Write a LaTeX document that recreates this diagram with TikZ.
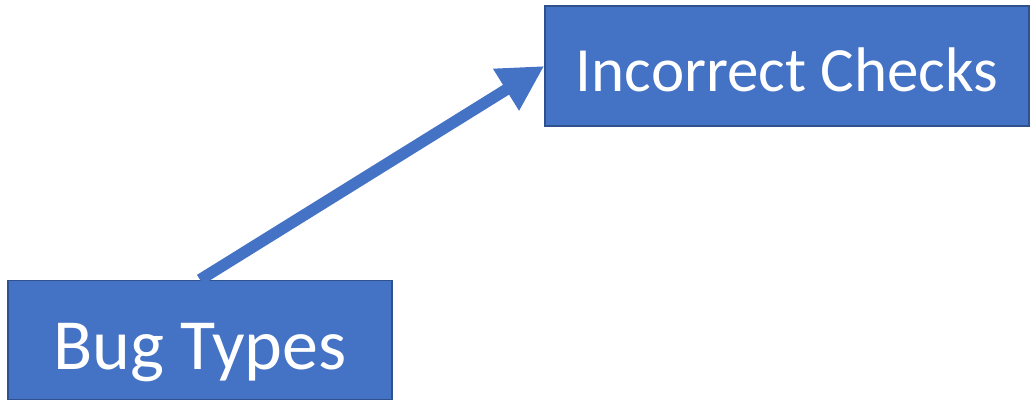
\documentclass[tikz,border=0pt]{standalone}
\usepackage{fontspec}
\setmainfont{Carlito}
\usetikzlibrary{arrows.meta,positioning}
\definecolor{boxblue}{HTML}{4472C4}
\definecolor{edgeblue}{HTML}{2F528F}

\begin{document}
\begin{tikzpicture}[
		box/.style={draw=edgeblue,fill=boxblue,line width=1.5pt,text=white,inner sep=0pt,text depth=0pt},
		arr/.style={-{Triangle[length=45pt,width=46pt]},draw=boxblue,line width=11.5pt}
		]
		
		% --- Canvas
		\useasboundingbox (0,0) rectangle (1030pt,399pt);
		
		% --- The two boxes
		\node[box,minimum width=384pt,minimum height=119pt,text height=59pt,font=\fontsize{72}{80}\selectfont] (bugtypes) at (200pt,59pt) {Bug Types};
		\node[box,minimum width=484pt,minimum height=120pt,text height=52pt,font=\fontsize{63}{72}\selectfont] (checks) at (787pt,333pt) {Incorrect Checks};
		
		% --- Arrow between them
		\draw[arr] (bugtypes.north) -- (checks.west);
		
	\end{tikzpicture}
\end{document}
